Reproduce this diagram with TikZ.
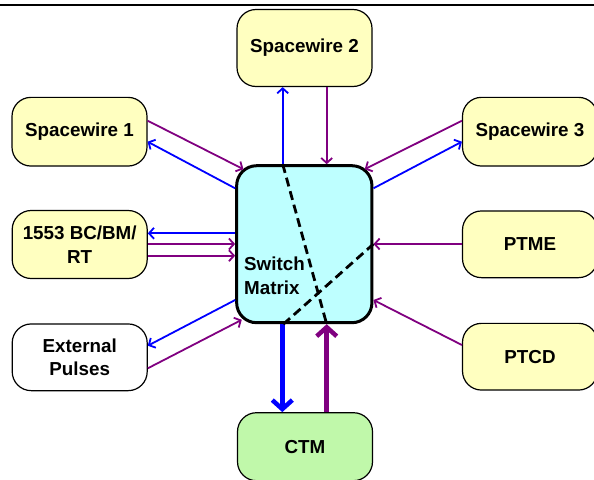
\documentclass[tikz,border=0pt]{standalone}
\usepackage{fontspec}
\setmainfont{Liberation Sans}
\usetikzlibrary{arrows.meta,calc}
\definecolor{boxyellow}{RGB}{255,255,192}
\definecolor{boxgreen}{RGB}{192,248,170}
\definecolor{boxcyan}{RGB}{190,255,255}
\definecolor{linkblue}{RGB}{0,0,255}
\definecolor{linkpurple}{RGB}{128,0,128}
\newcommand{\labelfont}{\fontsize{18.8}{23.5}\selectfont\bfseries}
\tikzset{
  unit/.style={draw=black, line width=1.2pt, rounded corners=19pt,
    minimum width=135pt, minimum height=68pt, inner sep=0pt,
    align=center, font=\labelfont},
  yellowunit/.style={unit, fill=boxyellow},
  whiteunit/.style={unit, fill=white},
  greenunit/.style={unit, fill=boxgreen},
  matrixbox/.style={draw=black, line width=3pt, rounded corners=20pt,
    fill=boxcyan, minimum width=135.3pt, minimum height=157pt, inner sep=0pt},
  bluelink/.style={draw=linkblue, line width=1.8pt,
    -{Straight Barb[length=5pt,width=11pt]}},
  purplelink/.style={draw=linkpurple, line width=1.8pt,
    -{Straight Barb[length=5pt,width=11pt]}},
  bluebus/.style={draw=linkblue, line width=4.5pt,
    -{Straight Barb[length=9pt,width=20pt]}},
  purplebus/.style={draw=linkpurple, line width=4.5pt,
    -{Straight Barb[length=9pt,width=20pt]}},
  route/.style={draw=black, line width=2.8pt, dash pattern=on 9pt off 5pt},
}
\begin{document}
\begin{tikzpicture}[x=1pt,y=-1pt]
  \useasboundingbox (0,0) rectangle (594,479);
  \clip (0,0) rectangle (594,479);

  % rule along the top
  \coordinate (ruleL) at (0,5);
  \coordinate (ruleR) at (594,5);
  \draw[line width=2.2pt] (ruleL) -- (ruleR);

  % central switch
  \node[matrixbox] (sm) at (304.3,244.2) {};
  \node[font=\labelfont, align=left, anchor=base west, inner sep=0pt]
    (smlabel) at (244,294) {Switch\\Matrix};

  % surrounding units
  \node[yellowunit, minimum height=77pt] (sw2) at (304.5,48) {Spacewire 2};
  \node[yellowunit, minimum height=68.7pt] (sw1) at (79.5,131.7) {Spacewire 1};
  \node[yellowunit] (bus) at (79.7,244.5) {1553 BC/BM/\\RT};
  \node[whiteunit, minimum height=66.7pt] (ext) at (79.7,357.3) {External\\Pulses};
  \node[yellowunit, minimum height=68.7pt] (sw3) at (530,131.7) {Spacewire 3};
  \node[yellowunit, minimum height=66.7pt] (ptme) at (530,244.3) {PTME};
  \node[yellowunit, minimum height=66.7pt] (ptcd) at (530,356.7) {PTCD};
  \node[greenunit] (ctm) at (305,446.7) {CTM};

  % Spacewire 1
  \draw[purplelink] ($(sw1.east)+(0,-11)$) -- ($(sm.north west)+(8.3,5)$);
  \draw[bluelink] ($(sm.west)+(0,-55.9)$) -- ($(sw1.east)+(0,10)$);

  % Spacewire 2
  \draw[bluelink] ($(sm.north)+(-21.6,0)$) -- ($(sw2.south)+(-21.8,0)$);
  \draw[purplelink] ($(sw2.south)+(22.2,0)$) -- ($(sm.north)+(22.4,0)$);

  % Spacewire 3
  \draw[purplelink] ($(sw3.west)+(0,-11)$) -- ($(sm.north east)+(-8.7,5)$);
  \draw[bluelink] ($(sm.east)+(0,-55.9)$) -- ($(sw3.west)+(0,10)$);

  % 1553 bus
  \draw[bluelink] ($(sm.west)+(0,-10.9)$) -- ($(bus.east)+(0,-11.2)$);
  \draw[purplelink] ($(bus.east)+(0,-0.5)$) -- ($(sm.west)+(0,-0.2)$);
  \draw[purplelink] ($(bus.east)+(0,11.2)$) -- ($(sm.west)+(0,11.5)$);

  % PTME and PTCD
  \draw[purplelink] ($(ptme.west)+(0,-0.3)$) -- ($(sm.east)+(0,-0.2)$);
  \draw[purplelink] ($(ptcd.west)+(0,-11.7)$) -- ($(sm.east)+(0,55.8)$);

  % external pulses
  \draw[bluelink] ($(sm.west)+(0,55.8)$) -- ($(ext.east)+(0,-11.6)$);
  \draw[purplelink] ($(ext.east)+(0,11)$) -- ($(sm.south west)+(6.6,-4.4)$);

  % CTM buses
  \draw[bluebus] ($(sm.south)+(-22,0)$) -- ($(ctm.north)+(-22.7,0)$);
  \draw[purplebus] ($(ctm.north)+(21.7,0)$) -- ($(sm.south)+(22.4,0)$);

  % switched routes
  \draw[route] ($(sm.north)+(-21.6,0)$) -- ($(sm.south)+(22.4,0)$);
  \draw[route] ($(sm.south)+(-21,0)$) -- ($(sm.east)+(0,-0.2)$);
\end{tikzpicture}
\end{document}
